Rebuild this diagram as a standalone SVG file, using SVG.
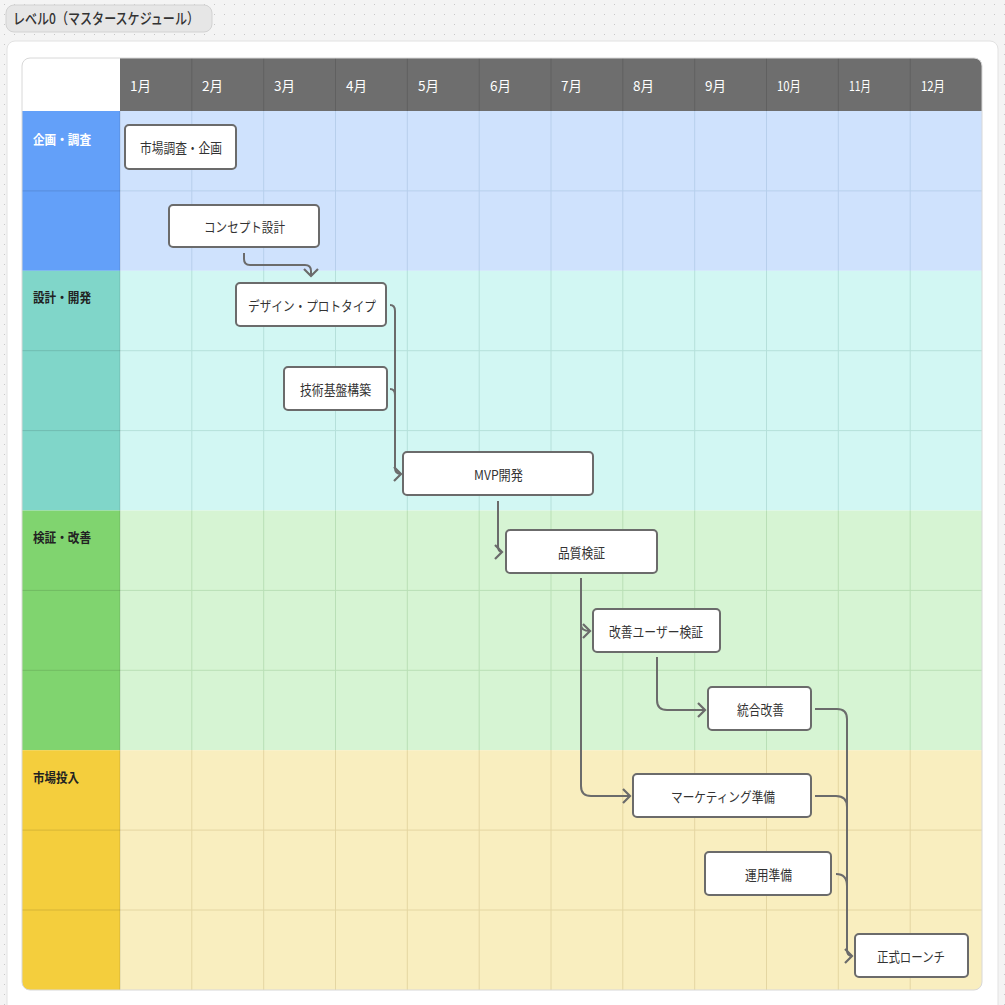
<svg xmlns="http://www.w3.org/2000/svg" width="1005" height="1005" viewBox="0 0 1005 1005">
<style>
  .hd{font-family:"Noto Sans CJK JP","Noto Sans",sans-serif;font-size:13.5px;fill:#ffffff;}
  .grp{font-family:"Noto Sans CJK JP","Noto Sans",sans-serif;font-size:13px;font-weight:bold;fill:#222222;}
  .nd rect{fill:#ffffff;stroke:#6b6b6b;stroke-width:2;}
  .nd text{font-family:"Noto Sans CJK JP","Noto Sans",sans-serif;font-size:13.5px;fill:#333333;text-anchor:middle;dominant-baseline:central;}
  .cn path{fill:none;stroke:#6b6b6b;stroke-width:2;}
  .gl{stroke-width:1;}
</style>
<defs>
  <pattern id="dots" width="10" height="10" patternUnits="userSpaceOnUse">
    <rect x="4" y="4" width="1" height="1" fill="#c8c8c8"/>
  </pattern>
  <marker id="chev" markerUnits="userSpaceOnUse" markerWidth="14" markerHeight="20" refX="8" refY="8" orient="auto" viewBox="0 0 14 16">
    <path d="M1,1 L8,8 L1,15" fill="none" stroke="#6b6b6b" stroke-width="2.2"/>
  </marker>
  <clipPath id="tbl"><rect x="22" y="58" width="960" height="932" rx="8"/></clipPath>
</defs>
<rect x="0" y="0" width="1005" height="1005" fill="#f4f4f4"/>
<rect x="0" y="0" width="1005" height="1005" fill="url(#dots)"/>
<g id="title">
  <rect x="6" y="5" width="206" height="27" rx="8" fill="#e6e6e6" stroke="#d2d2d2"/>
  <text x="13" y="24" font-family="Noto Sans CJK JP,Noto Sans,sans-serif" font-size="15" font-weight="500" fill="#333333" textLength="186" lengthAdjust="spacingAndGlyphs">レベル0（マスタースケジュール）</text>
</g>
<rect x="7" y="41" width="991" height="980" rx="8" fill="#ffffff" stroke="#e2e2e2"/>
<g id="table" clip-path="url(#tbl)">
  <rect x="22" y="58" width="98" height="53" fill="#ffffff"/>
  <rect x="120" y="58" width="862" height="53" fill="#6e6e6e"/>
  <rect x="22" y="111" width="98" height="159.8" fill="#63a0f9"/>
  <rect x="22" y="270.8" width="98" height="239.7" fill="#80d6c9"/>
  <rect x="22" y="510.5" width="98" height="239.7" fill="#80d46f"/>
  <rect x="22" y="750.2" width="98" height="239.8" fill="#f4ce3d"/>
  <rect x="120" y="111" width="862" height="159.8" fill="#cfe2fd"/>
  <rect x="120" y="270.8" width="862" height="239.7" fill="#d2f7f3"/>
  <rect x="120" y="510.5" width="862" height="239.7" fill="#d6f4d3"/>
  <rect x="120" y="750.2" width="862" height="239.8" fill="#f9eebf"/>
  <g stroke="#606060" class="gl">
    <line x1="191.8" y1="58" x2="191.8" y2="111"/><line x1="263.7" y1="58" x2="263.7" y2="111"/>
    <line x1="335.5" y1="58" x2="335.5" y2="111"/><line x1="407.3" y1="58" x2="407.3" y2="111"/>
    <line x1="479.2" y1="58" x2="479.2" y2="111"/><line x1="551" y1="58" x2="551" y2="111"/>
    <line x1="622.8" y1="58" x2="622.8" y2="111"/><line x1="694.7" y1="58" x2="694.7" y2="111"/>
    <line x1="766.5" y1="58" x2="766.5" y2="111"/><line x1="838.3" y1="58" x2="838.3" y2="111"/>
    <line x1="910.2" y1="58" x2="910.2" y2="111"/>
  </g>
  <g stroke="#b7cfec" class="gl">
    <line x1="191.8" y1="111" x2="191.8" y2="270.8"/><line x1="263.7" y1="111" x2="263.7" y2="270.8"/>
    <line x1="335.5" y1="111" x2="335.5" y2="270.8"/><line x1="407.3" y1="111" x2="407.3" y2="270.8"/>
    <line x1="479.2" y1="111" x2="479.2" y2="270.8"/><line x1="551" y1="111" x2="551" y2="270.8"/>
    <line x1="622.8" y1="111" x2="622.8" y2="270.8"/><line x1="694.7" y1="111" x2="694.7" y2="270.8"/>
    <line x1="766.5" y1="111" x2="766.5" y2="270.8"/><line x1="838.3" y1="111" x2="838.3" y2="270.8"/>
    <line x1="910.2" y1="111" x2="910.2" y2="270.8"/>
    <line x1="120" y1="190.9" x2="982" y2="190.9"/>
  </g>
  <g stroke="#b5e0da" class="gl">
    <line x1="191.8" y1="270.8" x2="191.8" y2="510.5"/><line x1="263.7" y1="270.8" x2="263.7" y2="510.5"/>
    <line x1="335.5" y1="270.8" x2="335.5" y2="510.5"/><line x1="407.3" y1="270.8" x2="407.3" y2="510.5"/>
    <line x1="479.2" y1="270.8" x2="479.2" y2="510.5"/><line x1="551" y1="270.8" x2="551" y2="510.5"/>
    <line x1="622.8" y1="270.8" x2="622.8" y2="510.5"/><line x1="694.7" y1="270.8" x2="694.7" y2="510.5"/>
    <line x1="766.5" y1="270.8" x2="766.5" y2="510.5"/><line x1="838.3" y1="270.8" x2="838.3" y2="510.5"/>
    <line x1="910.2" y1="270.8" x2="910.2" y2="510.5"/>
    <line x1="120" y1="350.7" x2="982" y2="350.7"/><line x1="120" y1="430.6" x2="982" y2="430.6"/>
  </g>
  <g stroke="#b9dfb6" class="gl">
    <line x1="191.8" y1="510.5" x2="191.8" y2="750.2"/><line x1="263.7" y1="510.5" x2="263.7" y2="750.2"/>
    <line x1="335.5" y1="510.5" x2="335.5" y2="750.2"/><line x1="407.3" y1="510.5" x2="407.3" y2="750.2"/>
    <line x1="479.2" y1="510.5" x2="479.2" y2="750.2"/><line x1="551" y1="510.5" x2="551" y2="750.2"/>
    <line x1="622.8" y1="510.5" x2="622.8" y2="750.2"/><line x1="694.7" y1="510.5" x2="694.7" y2="750.2"/>
    <line x1="766.5" y1="510.5" x2="766.5" y2="750.2"/><line x1="838.3" y1="510.5" x2="838.3" y2="750.2"/>
    <line x1="910.2" y1="510.5" x2="910.2" y2="750.2"/>
    <line x1="120" y1="590.4" x2="982" y2="590.4"/><line x1="120" y1="670.3" x2="982" y2="670.3"/>
  </g>
  <g stroke="#e4d6a2" class="gl">
    <line x1="191.8" y1="750.2" x2="191.8" y2="990"/><line x1="263.7" y1="750.2" x2="263.7" y2="990"/>
    <line x1="335.5" y1="750.2" x2="335.5" y2="990"/><line x1="407.3" y1="750.2" x2="407.3" y2="990"/>
    <line x1="479.2" y1="750.2" x2="479.2" y2="990"/><line x1="551" y1="750.2" x2="551" y2="990"/>
    <line x1="622.8" y1="750.2" x2="622.8" y2="990"/><line x1="694.7" y1="750.2" x2="694.7" y2="990"/>
    <line x1="766.5" y1="750.2" x2="766.5" y2="990"/><line x1="838.3" y1="750.2" x2="838.3" y2="990"/>
    <line x1="910.2" y1="750.2" x2="910.2" y2="990"/>
    <line x1="120" y1="830.1" x2="982" y2="830.1"/><line x1="120" y1="910" x2="982" y2="910"/>
  </g>
  <g stroke="#000000" stroke-opacity="0.12" class="gl">
    <line x1="22" y1="190.9" x2="120" y2="190.9"/>
    <line x1="22" y1="350.7" x2="120" y2="350.7"/><line x1="22" y1="430.6" x2="120" y2="430.6"/>
    <line x1="22" y1="590.4" x2="120" y2="590.4"/><line x1="22" y1="670.3" x2="120" y2="670.3"/>
    <line x1="22" y1="830.1" x2="120" y2="830.1"/><line x1="22" y1="910" x2="120" y2="910"/>
    <line x1="120" y1="111" x2="120" y2="990"/>
  </g>
</g>
<rect x="22" y="58" width="960" height="932" rx="8" fill="none" stroke="#d8d8d8"/>
<g id="header">
  <text class="hd" x="130" y="91">1月</text>
  <text class="hd" x="202" y="91">2月</text>
  <text class="hd" x="274" y="91">3月</text>
  <text class="hd" x="346" y="91">4月</text>
  <text class="hd" x="418" y="91">5月</text>
  <text class="hd" x="490" y="91">6月</text>
  <text class="hd" x="561" y="91">7月</text>
  <text class="hd" x="633" y="91">8月</text>
  <text class="hd" x="705" y="91">9月</text>
  <text class="hd" x="777" y="91" textLength="24" lengthAdjust="spacingAndGlyphs">10月</text>
  <text class="hd" x="849" y="91" textLength="22" lengthAdjust="spacingAndGlyphs">11月</text>
  <text class="hd" x="921" y="91" textLength="24" lengthAdjust="spacingAndGlyphs">12月</text>
</g>
<g id="groups">
  <text class="grp" x="33" y="144" style="fill:#ffffff" textLength="58" lengthAdjust="spacingAndGlyphs">企画・調査</text>
  <text class="grp" x="33" y="302" textLength="58" lengthAdjust="spacingAndGlyphs">設計・開発</text>
  <text class="grp" x="33" y="542" textLength="58" lengthAdjust="spacingAndGlyphs">検証・改善</text>
  <text class="grp" x="33" y="782" textLength="46" lengthAdjust="spacingAndGlyphs">市場投入</text>
</g>
<g id="connectors" class="cn">
  <path d="M244,253 L244,259 Q244,265 250,265 L305,265 Q311,265 311,271 L311,276" marker-end="url(#chev)"/>
  <path d="M390,305 Q395,305 395,311 L395,468 Q395,474 401,474" marker-end="url(#chev)"/>
  <path d="M390,389 Q395,389 395,395"/>
  <path d="M498,501 L498,546 Q498,552 502,552" marker-end="url(#chev)"/>
  <path d="M581,578 L581,625 Q581,631 590,631" marker-end="url(#chev)"/>
  <path d="M581,578 L581,786 Q581,796 591,796 L630,796" marker-end="url(#chev)"/>
  <path d="M657,657 L657,700 Q657,710 667,710 L705,710" marker-end="url(#chev)"/>
  <path d="M815,709 L837,709 Q847,709 847,719 L847,950 Q847,956 852,956" marker-end="url(#chev)"/>
  <path d="M815,796 L836,796 Q847,796 847,807"/>
  <path d="M836,874 Q847,874 847,886"/>
</g>
<g id="n1" class="nd"><rect x="125" y="125" width="111" height="44" rx="4"/><text x="181" y="147" textLength="82" lengthAdjust="spacingAndGlyphs">市場調査・企画</text></g>
<g id="n2" class="nd"><rect x="169" y="205" width="150" height="42" rx="4"/><text x="244.5" y="226" textLength="81" lengthAdjust="spacingAndGlyphs">コンセプト設計</text></g>
<g id="n3" class="nd"><rect x="236" y="283" width="150" height="43" rx="4"/><text x="312" y="304.5" textLength="128" lengthAdjust="spacingAndGlyphs">デザイン・プロトタイプ</text></g>
<g id="n4" class="nd"><rect x="284" y="367" width="103" height="43" rx="4"/><text x="335.5" y="388.5" textLength="71" lengthAdjust="spacingAndGlyphs">技術基盤構築</text></g>
<g id="n5" class="nd"><rect x="403" y="452" width="190" height="43" rx="4"/><text x="498.5" y="473.5" textLength="49" lengthAdjust="spacingAndGlyphs">MVP開発</text></g>
<g id="n6" class="nd"><rect x="506" y="530" width="151" height="43" rx="4"/><text x="581.5" y="551.5" textLength="47" lengthAdjust="spacingAndGlyphs">品質検証</text></g>
<g id="n7" class="nd"><rect x="593" y="609" width="127" height="43" rx="4"/><text x="656" y="630.5" textLength="94" lengthAdjust="spacingAndGlyphs">改善ユーザー検証</text></g>
<g id="n8" class="nd"><rect x="708" y="687" width="103" height="43" rx="4"/><text x="760.5" y="708.5" textLength="47" lengthAdjust="spacingAndGlyphs">統合改善</text></g>
<g id="n9" class="nd"><rect x="633" y="774" width="178" height="43" rx="4"/><text x="723" y="795.5" textLength="104" lengthAdjust="spacingAndGlyphs">マーケティング準備</text></g>
<g id="n10" class="nd"><rect x="705" y="852" width="126" height="43" rx="4"/><text x="768.5" y="873.5" textLength="47" lengthAdjust="spacingAndGlyphs">運用準備</text></g>
<g id="n11" class="nd"><rect x="855" y="934" width="113" height="43" rx="4"/><text x="911" y="955.5" textLength="68" lengthAdjust="spacingAndGlyphs">正式ローンチ</text></g>
</svg>
